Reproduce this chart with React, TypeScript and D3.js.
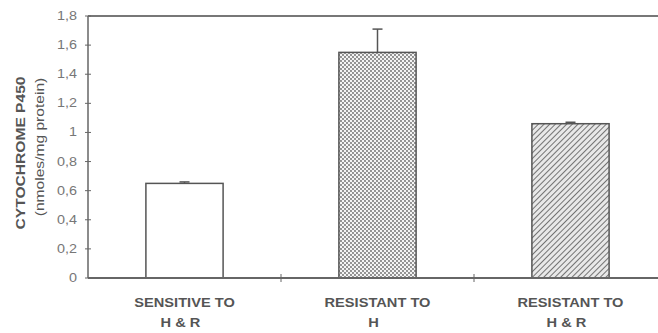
import React from "react";
import * as d3 from "d3";

// values
const groups = ["sens", "resH", "resHR"];
const labelLine1 = ["SENSITIVE TO", "RESISTANT TO", "RESISTANT TO"];
const labelLine2 = ["H & R", "H", "H & R"];
const means = [0.65, 1.55, 1.06];
const errors = [0.01, 0.16, 0.01];
const yTicks = [0, 0.2, 0.4, 0.6, 0.8, 1, 1.2, 1.4, 1.6, 1.8];
const fills = ["#ffffff", "url(#dots)", "url(#hatch)"];

const width = 658;
const height = 333;
const margin = { top: 16, left: 88, bottom: 55 };

const App = () => {
  const x = d3
    .scaleBand()
    .domain(groups)
    .range([margin.left, 667])
    .paddingInner(0.6)
    .paddingOuter(0.3);

  const y = d3
    .scaleLinear()
    .domain([0, 1.8])
    .range([height - margin.bottom, margin.top]);

  const fmt = (d) => String(d).replace(".", ",");
  const ink = "#555";

  return (
    <svg width={width} height={height} style={{ display: "block", position: "absolute", left: 0, top: 0, background: "#fff" }}>
      <defs>
        <pattern id="dots" width="4" height="4" patternUnits="userSpaceOnUse">
          <rect width="4" height="4" fill="#f4f4f4" />
          <circle cx="1" cy="1" r="0.9" fill="#666" />
          <circle cx="3" cy="3" r="0.9" fill="#666" />
        </pattern>
        <pattern id="hatch" width="4" height="4" patternUnits="userSpaceOnUse" patternTransform="rotate(45)">
          <rect width="4" height="4" fill="#e8e8e8" />
          <line x1="0" y1="0" x2="0" y2="4" stroke="#555" strokeWidth="1.6" />
        </pattern>
      </defs>

      {/* top border line */}
      <line x1={margin.left} x2={width} y1={y(1.8)} y2={y(1.8)} stroke="#777" strokeWidth={2} />

      {/* bars */}
      {groups.map((g, i) => (
        <g key={g}>
          <rect
            x={x(g)}
            y={y(means[i])}
            width={x.bandwidth()}
            height={y(0) - y(means[i])}
            fill={fills[i]}
            stroke="#555"
            strokeWidth={1.5}
          />
          <line
            x1={x(g) + x.bandwidth() / 2}
            x2={x(g) + x.bandwidth() / 2}
            y1={y(means[i])}
            y2={y(means[i] + errors[i])}
            stroke="#555"
            strokeWidth={1.5}
          />
          <line
            x1={x(g) + x.bandwidth() / 2 - 5}
            x2={x(g) + x.bandwidth() / 2 + 5}
            y1={y(means[i] + errors[i])}
            y2={y(means[i] + errors[i])}
            stroke="#555"
            strokeWidth={1.5}
          />
        </g>
      ))}

      {/* y axis */}
      <line x1={margin.left} x2={margin.left} y1={y(1.8)} y2={y(0)} stroke="#666" strokeWidth={1.5} />
      {yTicks.map((t) => (
        <g key={t}>
          <line x1={margin.left - 3} x2={margin.left + 3} y1={y(t)} y2={y(t)} stroke="#666" strokeWidth={1} />
          <g transform={`translate(77, ${y(t) + 4}) scale(1.2, 1)`}>
            <text textAnchor="end" fontFamily="Arial, 'Liberation Sans', sans-serif" fontSize={12} fill="#777">
              {fmt(t)}
            </text>
          </g>
        </g>
      ))}

      {/* x axis */}
      <line x1={margin.left} x2={width} y1={y(0)} y2={y(0)} stroke="#666" strokeWidth={2} />
      {groups.slice(1).map((g) => (
        <line
          key={g}
          x1={x(g) - (x.step() - x.bandwidth()) / 2}
          x2={x(g) - (x.step() - x.bandwidth()) / 2}
          y1={y(0) - 4}
          y2={y(0) + 4}
          stroke="#666"
          strokeWidth={1}
        />
      ))}

      {/* category labels */}
      {groups.map((g, i) => {
        const cx = x(g) + x.bandwidth() / 2;
        return (
          <g key={g} fontFamily="Arial, 'Liberation Sans', sans-serif" fontWeight="bold" fontSize={12} fill={ink}>
            <g transform={`translate(${cx}, 307) scale(1.22, 1)`}>
              <text textAnchor="middle">{labelLine1[i]}</text>
            </g>
            <g transform={`translate(${cx - 4}, 327) scale(1.22, 1)`}>
              <text textAnchor="middle">{labelLine2[i]}</text>
            </g>
          </g>
        );
      })}

      {/* y label */}
      <g transform="translate(25, 153) rotate(-90) scale(1.2, 1)">
        <text textAnchor="middle" fontFamily="Arial, 'Liberation Sans', sans-serif" fontWeight="bold" fontSize={13} fill={ink}>
          CYTOCHROME P450
        </text>
      </g>
      <g transform="translate(44, 147) rotate(-90) scale(1.2, 1)">
        <text textAnchor="middle" fontFamily="Arial, 'Liberation Sans', sans-serif" fontSize={13} fill={ink}>
          (nmoles/mg protein)
        </text>
      </g>
    </svg>
  );
};

export default App;
